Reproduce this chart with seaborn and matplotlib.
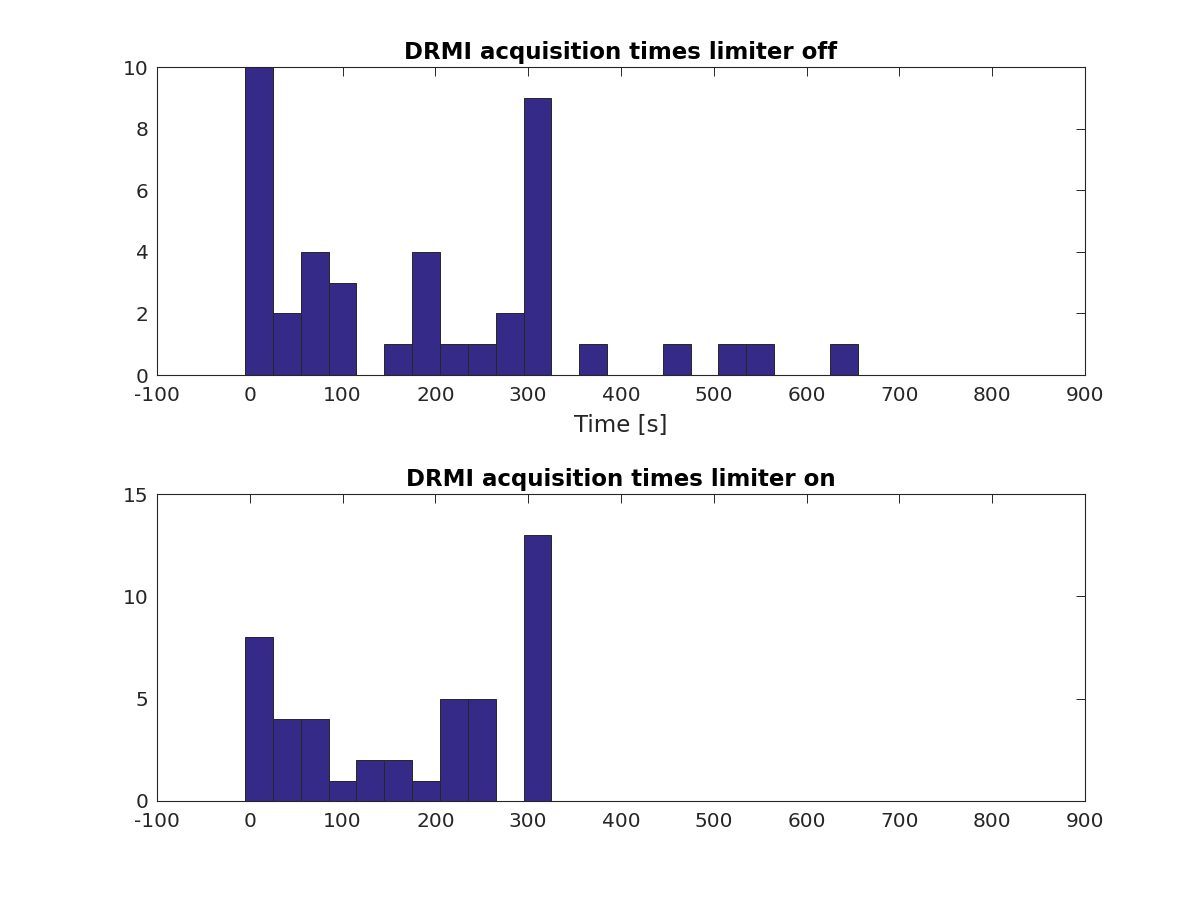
import numpy as np
import pandas as pd
import matplotlib
matplotlib.use("Agg")
import matplotlib.pyplot as plt
import seaborn as sns

# ---- data ----
bin_start = -5
bin_width = 30
n_bins = 27
counts_off = [10, 2, 4, 3, 0, 1, 4, 1, 1, 2, 9, 0, 1, 0, 0, 1, 0, 1, 1, 0, 0, 1, 0, 0, 0, 0, 0]
counts_on = [8, 4, 4, 1, 2, 2, 1, 5, 5, 0, 13, 0, 0, 0, 0, 0, 0, 0, 0, 0, 0, 0, 0, 0, 0, 0, 0]
titles = ["DRMI acquisition times limiter off", "DRMI acquisition times limiter on"]
xlabel_top = "Time [s]"
xticks = list(range(-100, 901, 100))
yticks_top = [0, 2, 4, 6, 8, 10]
yticks_bottom = [0, 5, 10, 15]

edges = [float(bin_start + bin_width * k) for k in range(n_bins + 1)]
centers = [(edges[k] + edges[k + 1]) / 2 for k in range(n_bins)]

sns.set_style("white")
plt.rcParams['font.family'] = ['DejaVu Sans']

FACE = "#352a87"
EDGE = "#262626"
TXT = "#262626"
FS = 14.5
FS_T = 16.5
FS_L = 16.6

fig = plt.figure(figsize=(12, 9), dpi=100)
ax1 = fig.add_axes([0.1308, 0.5833, 0.7733, 0.3422])
ax2 = fig.add_axes([0.1308, 0.11, 0.7733, 0.3411])

for ax, counts, title, yt in [(ax1, counts_off, titles[0], yticks_top),
                              (ax2, counts_on, titles[1], yticks_bottom)]:
    df = pd.DataFrame({"t": centers, "n": [float(c) for c in counts]})
    sns.histplot(data=df, x="t", weights="n", bins=edges, ax=ax,
                 color=FACE, edgecolor=EDGE, linewidth=0.7, alpha=1.0)
    ax.set_xlim(-100, 900)
    ax.set_ylim(yt[0], yt[-1])
    ax.set_xticks(xticks)
    ax.set_xticklabels([str(v) for v in xticks])
    ax.set_yticks(yt)
    ax.set_yticklabels([str(v) for v in yt])
    ax.set_ylabel("")
    ax.set_xlabel("")
    ax.tick_params(direction="in", length=6.5, width=0.7, colors=TXT,
                   labelsize=FS, top=True, right=True, pad=6,
                   labelcolor=TXT)
    ax.tick_params(axis="x", pad=8)
    for s in ax.spines.values():
        s.set_color(TXT)
        s.set_linewidth(0.8)
        s.set_visible(True)
    ax.set_title(title, fontsize=FS_T, fontweight="bold", color="black", pad=6)

ax1.set_xlabel(xlabel_top, fontsize=FS_L, color=TXT, labelpad=6.5)

fig.savefig("out.png", dpi=100, facecolor="white")
